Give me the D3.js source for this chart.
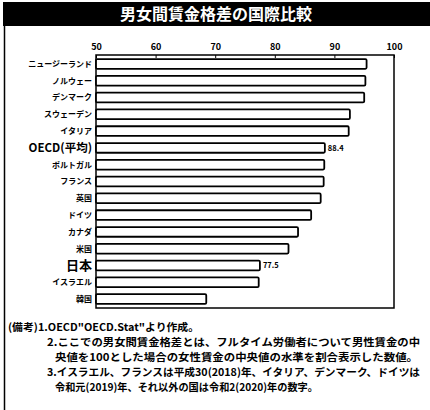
<!DOCTYPE html>
<html><head><meta charset="utf-8">
<script src="https://cdn.jsdelivr.net/npm/d3@7"></script>
<style>
html,body{margin:0;padding:0;background:#fff;}
svg{display:block;}
text{font-family:"Noto Sans CJK JP","Noto Sans",sans-serif;}
</style></head>
<body>
<svg id="c" width="430" height="410"></svg>
<script>
const title = "男女間賃金格差の国際比較";
const categories = ["ニュージーランド","ノルウェー","デンマーク","スウェーデン","イタリア","OECD(平均)","ポルトガル","フランス","英国","ドイツ","カナダ","米国","日本","イスラエル","韓国"];
const values = [95.4,95.2,95.0,92.6,92.4,88.4,88.3,88.2,87.7,86.1,83.9,82.3,77.5,77.3,68.5];
const labelled = ["OECD(平均)","日本"];
const ticks = [50,60,70,80,90,100];
const notes = [
  "(備考)1.OECD\"OECD.Stat\"より作成。",
  "2.ここでの男女間賃金格差とは、フルタイム労働者について男性賃金の中",
  "央値を100とした場合の女性賃金の中央値の水準を割合表示した数値。",
  "3.イスラエル、フランスは平成30(2018)年、イタリア、デンマーク、ドイツは",
  "令和元(2019)年、それ以外の国は令和2(2020)年の数字。"
];

const svg = d3.select("#c");
// title bar
svg.append("rect").attr("x",3).attr("y",2).attr("width",427).attr("height",24).attr("fill","#000");
svg.append("text").attr("x",216).attr("y",19.5).attr("text-anchor","middle")
  .attr("fill","#fff").attr("font-size",16).attr("font-weight",700).text(title);
// left frame line
svg.append("line").attr("x1",4.5).attr("x2",4.5).attr("y1",26).attr("y2",410).attr("stroke","#000").attr("stroke-width",1.5);

const L=96, R=394, T=55, B=308;
const x = d3.scaleLinear().domain([50,100]).range([L,R]);
const y = d3.scaleBand().domain(categories).range([T,B]).paddingInner(0.42).paddingOuter(0.24);

// plot frame
svg.append("rect").attr("x",L).attr("y",T).attr("width",R-L).attr("height",B-T)
  .attr("fill","none").attr("stroke","#000").attr("stroke-width",1.5);

// top axis
const ax = svg.append("g").attr("transform",`translate(0,${T})`)
  .call(d3.axisTop(x).tickValues(ticks).tickSizeInner(-3).tickSizeOuter(0).tickPadding(5).tickFormat(d3.format("d")));
ax.select(".domain").remove();
ax.selectAll("line").attr("stroke","#000").attr("stroke-width",1);
ax.selectAll("text").attr("font-family","'Liberation Sans',Arial,sans-serif").attr("font-weight",700).attr("font-size",9).attr("fill","#000");

// bars
svg.append("g").selectAll("rect").data(categories).join("rect")
  .attr("x",x(50)).attr("y",d=>y(d)).attr("height",y.bandwidth())
  .attr("width",(d,i)=>x(values[i])-x(50))
  .attr("rx",1.2).attr("fill","#fff").attr("stroke","#000").attr("stroke-width",1.8);

// category labels
svg.append("g").selectAll("text").data(categories).join("text")
  .attr("x",L-4).attr("y",d=>y(d)+y.bandwidth()/2)
  .attr("dy","0.36em").attr("text-anchor","end")
  .attr("font-weight",700)
  .attr("font-size",d=> d==="日本"?13:(d==="OECD(平均)"?11.5:8))
  .attr("fill","#000").text(d=>d);

// value labels
svg.append("g").selectAll("text").data(categories.filter(c=>labelled.includes(c))).join("text")
  .attr("x",d=>x(values[categories.indexOf(d)])+3)
  .attr("y",d=>y(d)+y.bandwidth()/2).attr("dy","0.36em")
  .attr("font-family","'Liberation Sans',Arial,sans-serif")
  .attr("font-size",7.5).attr("font-weight",700).attr("fill","#000")
  .text(d=>values[categories.indexOf(d)].toFixed(1));

// notes
const noteX=[8,47,55,47,55], noteY=[331,346,361,376,391], noteW=[191,373,363,373,263];
svg.append("g").selectAll("text").data(notes).join("text")
  .attr("x",(d,i)=>noteX[i]).attr("y",(d,i)=>noteY[i])
  .attr("font-size",10.5).attr("font-weight",700).attr("fill","#000")
  .attr("textLength",(d,i)=>noteW[i]).attr("lengthAdjust","spacingAndGlyphs")
  .text(d=>d);
</script>
</body></html>
